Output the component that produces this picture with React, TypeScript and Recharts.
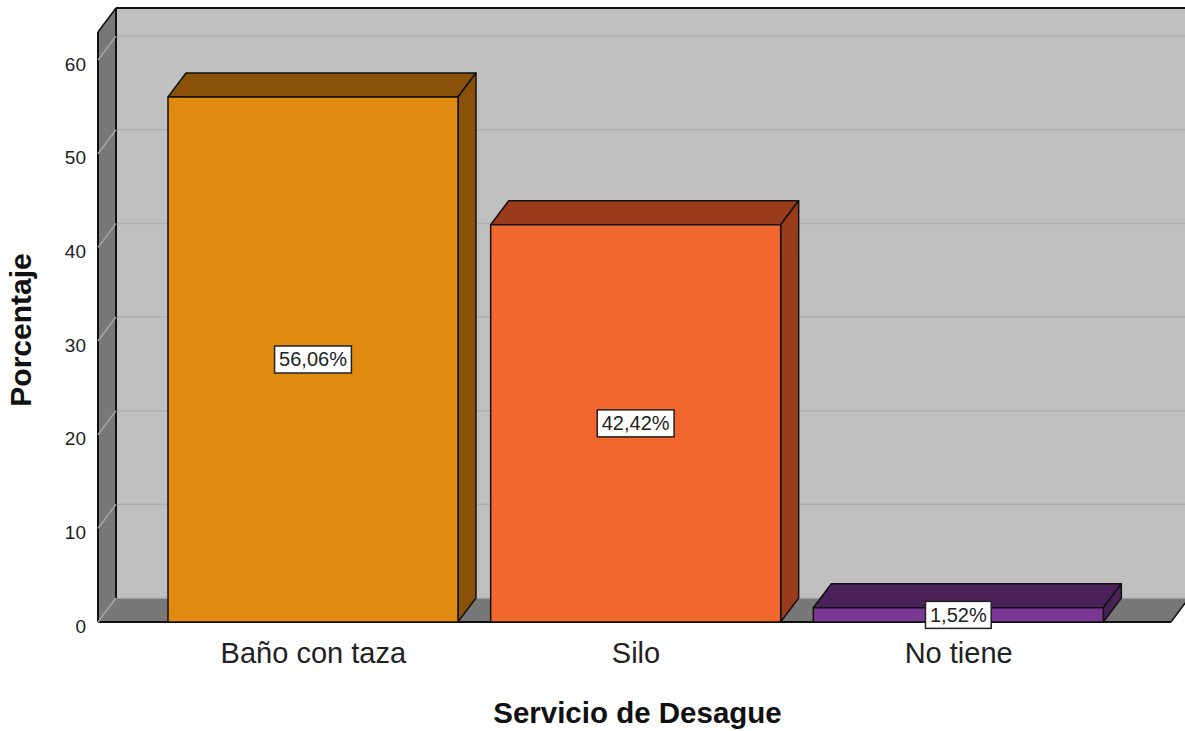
import React from "react"
import {
  BarChart,
  Bar,
  XAxis,
  YAxis,
  Cell,
  LabelList,
  ReferenceArea,
} from "recharts"

const CATEGORIES = ["Baño con taza", "Silo", "No tiene"]
const PERCENTS = [56.06, 42.42, 1.52]
const Y_TICKS = [0, 10, 20, 30, 40, 50, 60]
const Y_MAX = 63

const FRONT_COLORS = ["#e08a10", "#f2672d", "#7b3794"]
const SIDE_COLORS = ["#8a5208", "#9a3c1c", "#4a2158"]

// 3D depth offset of the walls and boxes
const DX = 18
const DY = -24
const PAD = { left: 54, right: 51 }
const FONT = "'Liberation Sans', Arial, sans-serif"

const data = CATEGORIES.map((name, i) => ({ name, pct: PERCENTS[i] }))

const fmt = (v: number) => v.toFixed(2).replace(".", ",") + "%"

function Walls(props: any) {
  const { x, y, width, height } = props
  const l = x - PAD.left
  const r = x + width + PAD.right
  const t = y
  const b = y + height
  return (
    <g>
      <rect x={l + DX} y={t + DY} width={r - l} height={b - t} fill="#c0c0c0" />
      <polygon
        points={`${l},${t} ${l + DX},${t + DY} ${l + DX},${b + DY} ${l},${b}`}
        fill="#787878"
      />
      <polygon
        points={`${l},${b} ${l + DX},${b + DY} ${r + DX},${b + DY} ${r},${b}`}
        fill="#787878"
      />
      <line x1={l + DX} y1={t + DY} x2={r + DX} y2={t + DY} stroke="#111" strokeWidth={2} />
      <line x1={l + DX} y1={t + DY} x2={l + DX} y2={b + DY} stroke="#111" strokeWidth={2} />
      <line x1={l} y1={t} x2={l + DX} y2={t + DY} stroke="#111" strokeWidth={1.5} />
      <line x1={l} y1={t} x2={l} y2={b} stroke="#111" strokeWidth={2} />
      <line x1={l} y1={b} x2={r} y2={b} stroke="#111" strokeWidth={2} />
      <line x1={r} y1={b} x2={r + DX} y2={b + DY} stroke="#111" strokeWidth={1.5} />
    </g>
  )
}

function GridLine(props: any) {
  const { x, y, width } = props
  const l = x - PAD.left
  const r = x + width + PAD.right
  return (
    <g>
      <line x1={l + DX + 1} y1={y + DY} x2={r + DX} y2={y + DY} stroke="#b0b0b0" strokeWidth={1.5} />
      <line x1={l} y1={y} x2={l + DX} y2={y + DY} stroke="#a4a4a4" strokeWidth={1.5} />
    </g>
  )
}

function Box3D(props: any) {
  const { x, y, width: w, height: h, fill, index } = props
  const side = SIDE_COLORS[index ?? 0]
  return (
    <g stroke="#111" strokeWidth={1.5} strokeLinejoin="round">
      <polygon
        points={`${x},${y} ${x + DX},${y + DY} ${x + w + DX},${y + DY} ${x + w},${y}`}
        fill={side}
      />
      <polygon
        points={`${x + w},${y} ${x + w + DX},${y + DY} ${x + w + DX},${y + h + DY} ${x + w},${y + h}`}
        fill={side}
      />
      <rect x={x} y={y} width={w} height={h} fill={fill} />
    </g>
  )
}

function textWidth(s: string, size: number) {
  let em = 0
  for (const c of s) em += c === "," ? 0.278 : c === "%" ? 0.889 : 0.556
  return em * size
}

function ValueTag(props: any) {
  const vb = props.viewBox ?? props
  const { x, y, width, height } = vb
  const text = fmt(Number(props.value))
  const cx = x + width / 2
  const cy = y + height / 2
  const bw = textWidth(text, 20) + 9
  return (
    <g>
      <rect x={cx - bw / 2} y={cy - 13.5} width={bw} height={27} fill="#fff" stroke="#222" strokeWidth={1.5} />
      <text x={cx} y={cy + 7} textAnchor="middle" fontSize={20} fill="#222" fontFamily={FONT}>
        {text}
      </text>
    </g>
  )
}

function XTitle(props: any) {
  const vb = props.viewBox ?? { x: 98, y: 622, width: 1073, height: 109 }
  return (
    <text
      x={vb.x + vb.width / 2 + 3}
      y={vb.y + vb.height - 8}
      textAnchor="middle"
      fontSize={29.5}
      fontWeight="bold"
      fill="#111"
      fontFamily={FONT}
    >
      Servicio de Desague
    </text>
  )
}

function YTitle(props: any) {
  const vb = props.viewBox ?? { x: 0, y: 32, width: 98, height: 590 }
  const cx = 31
  const cy = vb.y + vb.height / 2 + 3
  return (
    <text
      x={cx}
      y={cy}
      transform={`rotate(-90, ${cx}, ${cy})`}
      textAnchor="middle"
      fontSize={30}
      fontWeight="bold"
      fill="#111"
      fontFamily={FONT}
    >
      Porcentaje
    </text>
  )
}

export default function App() {
  return (
    <div
      style={{
        position: "absolute",
        left: 0,
        top: 0,
        width: 1185,
        height: 731,
        background: "#fff",
        fontFamily: FONT,
        overflow: "hidden",
      }}
    >
      <BarChart
        width={1185}
        height={731}
        data={data}
        margin={{ top: 32, right: 14, bottom: 0, left: 0 }}
        barSize={290}
      >
        <XAxis
          dataKey="name"
          padding={PAD}
          height={109}
          axisLine={false}
          tickLine={false}
          tickSize={0}
          tickMargin={20}
          tick={{ fontSize: 29, fill: "#222", fontFamily: FONT }}
          interval={0}
          label={(p: any) => <XTitle {...p} />}
        />
        <YAxis
          width={98}
          domain={[0, Y_MAX]}
          allowDataOverflow
          ticks={Y_TICKS}
          axisLine={false}
          tickLine={false}
          tickSize={0}
          tickMargin={12}
          tick={{ fontSize: 19, fill: "#222", fontFamily: FONT, dy: 4 }}
          label={(p: any) => <YTitle {...p} />}
        />
        <ReferenceArea
          y1={0}
          y2={Y_MAX}
          ifOverflow="visible"
          shape={(p: any) => <Walls {...p} />}
        />
        {Y_TICKS.map((t) => (
          <ReferenceArea
            key={t}
            y1={t}
            y2={t}
            ifOverflow="visible"
            shape={(p: any) => <GridLine {...p} />}
          />
        ))}
        <Bar dataKey="pct" isAnimationActive={false} shape={(p: any) => <Box3D {...p} />}>
          {data.map((_, i) => (
            <Cell key={i} fill={FRONT_COLORS[i]} />
          ))}
          <LabelList dataKey="pct" content={(p: any) => <ValueTag {...p} />} />
        </Bar>
      </BarChart>
    </div>
  )
}
